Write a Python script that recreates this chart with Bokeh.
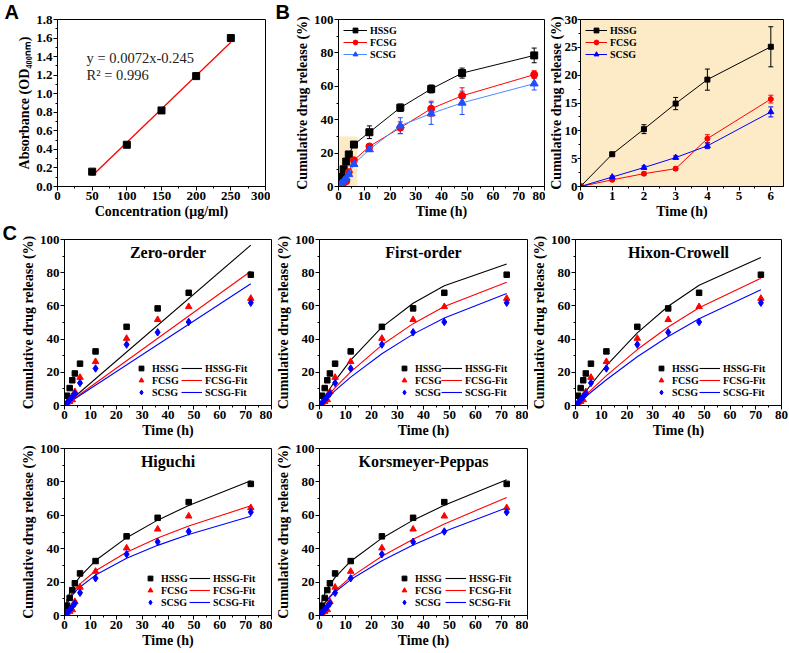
from bokeh.plotting import figure
from bokeh.layouts import column, row
from bokeh.models import (Range1d, FixedTicker, Label, Legend, LegendItem,
                          Whisker, TeeHead, ColumnDataSource)
from bokeh.embed import file_html
from bokeh.resources import INLINE

SERIF = "Liberation Serif"

# ---------------- Panel A data ----------------
conc = [50, 100, 150, 200, 250]
absorb = [0.16, 0.45, 0.82, 1.19, 1.60]
fit_conc = [50, 250]
fit_abs = [0.115, 1.555]
a_xticks = [0, 50, 100, 150, 200, 250, 300]
a_yticks = [0, 0.2, 0.4, 0.6, 0.8, 1.0, 1.2, 1.4, 1.6, 1.8]
a_ylabels = ["0.0", "0.2", "0.4", "0.6", "0.8", "1.0", "1.2", "1.4", "1.6", "1.8"]

# ---------------- Panel B data ----------------
t_b = [0, 1, 2, 3, 4, 6, 12, 24, 36, 48, 76]
hssg_b = [0, 5.8, 10.3, 14.9, 19.2, 25.1, 32.5, 47.2, 58.4, 67.9, 78.5]
hssg_err = [0, 0.2, 0.8, 1.1, 1.9, 3.6, 3.8, 2.2, 2.4, 3.0, 4.4]
fcsg_b = [0, 1.2, 2.3, 3.2, 8.6, 15.7, 24.0, 35.2, 46.6, 54.3, 67.0]
fcsg_err = [0, 0.2, 0.3, 0.3, 0.7, 0.7, 1.0, 3.5, 4.5, 4.8, 2.3]
scsg_b = [0, 1.7, 3.4, 5.2, 7.3, 13.4, 22.2, 36.4, 43.7, 50.1, 61.6]
scsg_err = [0, 0.2, 0.3, 0.3, 0.5, 0.9, 1.0, 4.8, 6.5, 7.0, 3.8]
b_xticks = [0, 10, 20, 30, 40, 50, 60, 70, 80]
b_yticks = [0, 20, 40, 60, 80, 100]
zoom_box = [0, 7.3, 0, 30]          # left, right, bottom, top
inset_n = 6                          # points shown in the inset (0..6 h)
bi_xticks = [0, 1, 2, 3, 4, 5, 6]
bi_yticks = [0, 5, 10, 15, 20, 25, 30]

# ---------------- Panel C data ----------------
t_c = [0, 1, 2, 3, 4, 6, 12, 24, 36, 48, 72]
hssg_c = [0, 5.9, 10.5, 15.2, 19.3, 25.2, 32.6, 47.4, 58.5, 67.9, 78.8]
fcsg_c = [0, 1.3, 2.4, 3.4, 8.3, 16.9, 26.4, 40.4, 51.7, 59.5, 64.5]
scsg_c = [0, 1.7, 3.4, 5.3, 7.2, 13.6, 22.3, 36.7, 44.1, 50.3, 61.9]
c_xticks = [0, 10, 20, 30, 40, 50, 60, 70, 80]
c_yticks = [0, 20, 40, 60, 80, 100]

zero_t = [0, 72]
zero_h = [0, 96.6]
zero_f = [0, 80.9]
zero_s = [0, 73.3]

first_h = [0, 2.62, 5.18, 7.67, 10.1, 14.8, 27.3, 47.2, 61.6, 72.1, 85.3]
first_f = [0, 1.87, 3.70, 5.50, 7.26, 10.7, 20.3, 36.4, 49.3, 59.6, 74.3]
first_s = [0, 1.55, 3.07, 4.57, 6.05, 8.94, 17.1, 31.2, 43.0, 52.7, 67.5]

hixon_h = [0, 2.17, 4.30, 6.40, 8.48, 12.5, 24.0, 43.7, 59.8, 72.4, 89.2]
hixon_f = [0, 1.60, 3.17, 4.73, 6.28, 9.32, 18.0, 33.7, 47.3, 58.9, 76.7]
hixon_s = [0, 1.36, 2.71, 4.05, 5.37, 7.99, 15.5, 29.4, 41.6, 52.3, 69.7]

higuchi_h = [0, 9.51, 13.45, 16.47, 19.02, 23.3, 32.9, 46.6, 57.1, 65.9, 80.7]
higuchi_f = [0, 7.74, 10.95, 13.41, 15.48, 18.96, 26.8, 37.9, 46.4, 53.6, 65.7]
higuchi_s = [0, 7.0, 9.9, 12.1, 14.0, 17.1, 24.2, 34.3, 42.0, 48.5, 59.4]

kp_h = [0, 9.13, 13.0, 16.0, 18.5, 22.8, 32.5, 46.3, 57.1, 66.0, 81.3]
kp_f = [0, 4.84, 7.47, 9.64, 11.5, 14.9, 23.0, 35.5, 45.7, 54.8, 70.7]
kp_s = [0, 4.69, 7.17, 9.2, 10.96, 14.1, 21.5, 32.8, 42.2, 50.3, 64.5]

series_names = ["HSSG", "FCSG", "SCSG"]
fit_names = ["HSSG-Fit", "FCSG-Fit", "SCSG-Fit"]

BLUE = "#0000FF"
RED = "#FF0000"
WHEAT = "#FCEBC6"
YLAB = "Cumulative drug release (%)"


def minors(ticks):
    return [(a + b) / 2 for a, b in zip(ticks[:-1], ticks[1:])]


def make_fig(width, height, left, right, top, bottom, xr, yr, xticks, yticks,
             xlabel, ylabel, bg="white"):
    p = figure(width=width, height=height, x_range=Range1d(*xr), y_range=Range1d(*yr),
               output_backend="svg", toolbar_location=None,
               min_border_left=left, min_border_right=right,
               min_border_top=top, min_border_bottom=bottom,
               background_fill_color=bg, border_fill_color="white",
               outline_line_color="black", outline_line_width=1)
    p.grid.visible = False
    p.xaxis.ticker = FixedTicker(ticks=xticks, minor_ticks=minors(xticks))
    p.yaxis.ticker = FixedTicker(ticks=yticks, minor_ticks=minors(yticks))
    for ax in (p.xaxis[0], p.yaxis[0]):
        ax.axis_line_color = "black"
        ax.axis_line_width = 1
        ax.major_tick_out = 4
        ax.major_tick_in = 0
        ax.minor_tick_out = 2
        ax.minor_tick_in = 0
        ax.major_tick_line_color = "black"
        ax.minor_tick_line_color = "black"
        ax.major_label_text_font = SERIF
        ax.major_label_text_font_style = "bold"
        ax.major_label_text_font_size = "13px"
        ax.major_label_text_color = "black"
        ax.axis_label_text_font = SERIF
        ax.axis_label_text_font_style = "bold"
        ax.axis_label_text_font_size = "14px"
        ax.axis_label_text_color = "black"
        ax.axis_label_standoff = 1
        ax.major_label_standoff = 1
    p.xaxis.axis_label = xlabel
    p.yaxis.axis_label = ylabel
    return p


def panel_letter(p, text, offset, standoff):
    # panel letter drawn as the figure's title, shifted into the top-left corner
    p.title.text = text
    p.title.align = "left"
    p.title.offset = offset
    p.title.standoff = standoff
    p.title.text_font = "Liberation Sans"
    p.title.text_font_style = "bold"
    p.title.text_font_size = "20px"
    p.title.text_color = "black"


def legend(p, items, loc, gw, standoff, size="10px", gh=12):
    lg = Legend(items=items, location=loc, orientation="vertical",
                glyph_width=gw, glyph_height=gh, label_height=gh, label_standoff=standoff,
                spacing=0, padding=0, margin=5 if isinstance(loc, str) else 0,
                border_line_alpha=0, background_fill_alpha=0,
                label_text_font=SERIF, label_text_font_style="bold",
                label_text_font_size=size, label_text_color="black")
    p.add_layout(lg)
    return lg


# ---------------- Panel A ----------------
pA = make_fig(270, 223, 57, 5, 19, 37, (0, 300), (0, 1.8), a_xticks, a_yticks,
              "Concentration (\u03bcg/ml)", "Absorbance (OD\u2084\u2080\u2080\u2099\u2098)")
pA.yaxis.major_label_overrides = {t: s for t, s in zip(a_yticks, a_ylabels)}
pA.line(fit_conc, fit_abs, line_color=RED, line_width=1.3)
pA.scatter(conc, absorb, marker="square", size=7, color="black")
for txt, yy in (("y = 0.0072x-0.245", 1.39), ("R\u00b2 = 0.996", 1.2)):
    pA.add_layout(Label(x=42, y=yy, text=txt, text_font=SERIF, text_font_size="14.5px",
                        text_baseline="middle", text_color="#222222"))
panel_letter(pA, "A", -53, -6)

# ---------------- Panel B main ----------------
pB = make_fig(275, 223, 68, 1, 19, 37, (0, 80), (0, 100), b_xticks, b_yticks,
              "Time (h)", YLAB)
pB.quad(left=zoom_box[0], right=zoom_box[1], bottom=zoom_box[2], top=zoom_box[3],
        fill_color=WHEAT, line_color=None)

b_series = [(hssg_b, hssg_err, "black", "black", "square", 7),
            (fcsg_b, fcsg_err, RED, RED, "circle", 7),
            (scsg_b, scsg_err, "#4A8CFF", "#1F4FFF", "triangle", 8)]
items = []
for (ys, es, lc, mc, mk, sz), name in zip(b_series, series_names):
    src = ColumnDataSource(dict(x=t_b, lo=[y - e for y, e in zip(ys, es)],
                                hi=[y + e for y, e in zip(ys, es)]))
    pB.add_layout(Whisker(source=src, base="x", upper="hi", lower="lo", line_color=mc,
                          line_width=1,
                          upper_head=TeeHead(size=5, line_color=mc, line_width=1),
                          lower_head=TeeHead(size=5, line_color=mc, line_width=1)))
    lr = pB.line(t_b, ys, line_color=lc, line_width=1)
    sr = pB.scatter(t_b, ys, marker=mk, size=sz, color=mc)
    items.append(LegendItem(label=name, renderers=[lr, sr]))
legend(pB, items, "top_left", 24, 3)
panel_letter(pB, "B", -63, -6)

# ---------------- Panel B inset ----------------
pBi = make_fig(244, 223, 34, 6, 19, 37, (0, 6.4), (0, 30), bi_xticks, bi_yticks,
               "Time (h)", YLAB, bg=WHEAT)
pBi.yaxis.major_tick_out = 3
pBi.yaxis.major_label_standoff = 0
pBi.yaxis.axis_label_standoff = -2
bi_series = [(hssg_b, hssg_err, "black", "square", 5),
             (fcsg_b, fcsg_err, RED, "circle", 5),
             (scsg_b, scsg_err, BLUE, "triangle", 6)]
items = []
tt = t_b[:inset_n]
for (ys, es, c, mk, sz), name in zip(bi_series, series_names):
    yy = ys[:inset_n]
    ee = es[:inset_n]
    src = ColumnDataSource(dict(x=tt, lo=[y - e for y, e in zip(yy, ee)],
                                hi=[y + e for y, e in zip(yy, ee)]))
    pBi.add_layout(Whisker(source=src, base="x", upper="hi", lower="lo", line_color=c,
                           line_width=1,
                           upper_head=TeeHead(size=5, line_color=c, line_width=1),
                           lower_head=TeeHead(size=5, line_color=c, line_width=1)))
    lr = pBi.line(tt, yy, line_color=c, line_width=1)
    sr = pBi.scatter(tt, yy, marker=mk, size=sz, color=c)
    items.append(LegendItem(label=name, renderers=[lr, sr]))
legend(pBi, items, "top_left", 22, 3)


# ---------------- Panel C ----------------
def c_panel(width, height, left, right, top, bottom, title, fit_t, fits, mk_x, ln_x):
    p = make_fig(width, height, left, right, top, bottom, (0, 80), (0, 100),
                 c_xticks, c_yticks, "Time (h)", YLAB)
    colors = ["black", RED, BLUE]
    line_rs = []
    for f, c in zip(fits, colors):
        line_rs.append(p.line(fit_t, f, line_color=c, line_width=1.1))
    sc_rs = [p.scatter(t_c, hssg_c, marker="square", size=5.5, color="black"),
             p.scatter(t_c, fcsg_c, marker="triangle", size=6.5, color=RED),
             p.scatter(t_c, scsg_c, marker="diamond", size=7.5, color=BLUE)]
    p.add_layout(Label(x=40, y=92, text=title, text_font=SERIF, text_font_style="bold",
                       text_font_size="16px", text_align="center", text_baseline="middle",
                       text_color="black"))
    legend(p, [LegendItem(label=n, renderers=[r]) for n, r in zip(series_names, sc_rs)],
           (mk_x, 7), 12, 5)
    legend(p, [LegendItem(label=n, renderers=[r]) for n, r in zip(fit_names, line_rs)],
           (ln_x, 7), 21, 3)
    return p


pZ = c_panel(272, 218, 64, 1, 15, 36, "Zero-order", zero_t, [zero_h, zero_f, zero_s], 71, 117)
panel_letter(pZ, "C", -62, -8)
pF = c_panel(256, 218, 47, 1, 15, 36, "First-order", t_c, [first_h, first_f, first_s], 79, 122)
pH = c_panel(261, 218, 45, 8, 15, 36, "Hixon-Crowell", t_c, [hixon_h, hixon_f, hixon_s], 80, 124)
pHg = c_panel(272, 212, 64, 1, 7, 38, "Higuchi", t_c, [higuchi_h, higuchi_f, higuchi_s], 80, 125)
pK = c_panel(256, 212, 47, 1, 7, 38, "Korsmeyer-Peppas", t_c, [kp_h, kp_f, kp_s], 79, 126)

layout = column(row(pA, pB, pBi), row(pZ, pF, pH), row(pHg, pK))

open("out.html", "w").write(file_html(layout, INLINE))
